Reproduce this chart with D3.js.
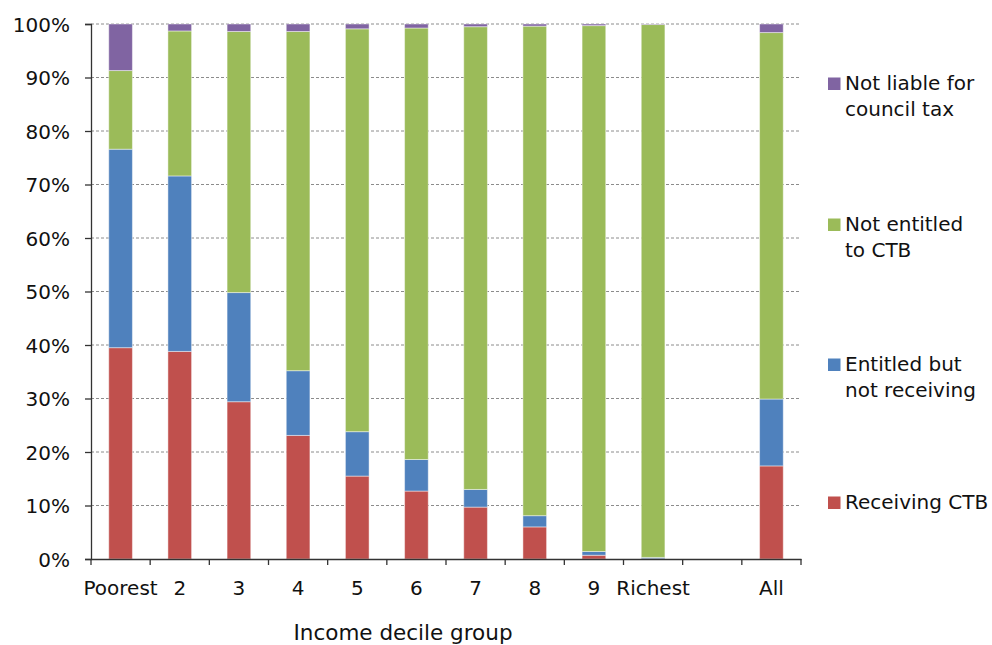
<!DOCTYPE html>
<html><head><meta charset="utf-8">
<script src="https://cdn.jsdelivr.net/npm/d3@7"></script>
<style>body{margin:0;background:#fff}svg{display:block}text{font-family:"DejaVu Sans",sans-serif;fill:#111}</style>
</head><body><svg id="c" width="992" height="645"></svg>
<script>
const categories = ["Poorest","2","3","4","5","6","7","8","9","Richest","","All"];
const receiving   = [39.5,38.8,29.4,23.1,15.5,12.7,9.7,6.0,0.7,0.05,null,17.4];
const entitledNot = [37.1,32.8,20.4,12.1,8.3,5.9,3.3,2.1,0.7,0.25,null,12.5];
const notEntitled = [14.7,27.1,48.8,63.4,75.3,80.65,86.5,91.5,98.3,99.6,null,68.5];
const notLiable   = [8.7,1.3,1.4,1.4,0.9,0.75,0.5,0.4,0.3,0.1,null,1.6];
const yTicks = [0,10,20,30,40,50,60,70,80,90,100];
const seriesNames = ["Receiving CTB","Entitled but not receiving","Not entitled to CTB","Not liable for council tax"];
const legendLines = [["Receiving CTB"],["Entitled but","not receiving"],["Not entitled","to CTB"],["Not liable for","council tax"]];
const colors = ["#C0504D","#4F81BD","#9BBB59","#8064A2"];

const svg = d3.select("#c");
const m = {l:91, r:801, t:24, b:559};
const x = d3.scaleBand().domain(categories.map((c,i)=>i)).range([m.l,m.r]).paddingInner(0).paddingOuter(0);
const y = d3.scaleLinear().domain([0,100]).range([m.b,m.t]);

// gridlines
svg.append("g").selectAll("line").data(yTicks.filter(d=>d>0)).join("line")
  .attr("x1",m.l).attr("x2",m.r).attr("y1",d=>y(d)).attr("y2",d=>y(d))
  .attr("stroke","#8c8c8c").attr("stroke-width",1).attr("stroke-dasharray","3,2");

// stacked data
const rows = categories.map((c,i)=>({i, s0:receiving[i]||0, s1:entitledNot[i]||0, s2:notEntitled[i]||0, s3:notLiable[i]||0}));
const stack = d3.stack().keys(["s0","s1","s2","s3"])(rows);
const bw = x.bandwidth()*0.4;
stack.forEach((layer,k)=>{
  svg.append("g").selectAll("rect").data(layer.filter(d=>categories[d.data.i]!=="")).join("rect")
    .attr("x",d=>x(d.data.i)+x.bandwidth()/2-bw/2)
    .attr("width",bw)
    .attr("y",d=>y(d[1]))
    .attr("height",d=>Math.max(0,y(d[0])-y(d[1])))
    .attr("fill",colors[k])
    .attr("stroke","rgba(255,255,255,0.45)").attr("stroke-width",1);
});

// axes
const yAxis = d3.axisLeft(y).tickValues(yTicks).tickFormat(d=>d+"%").tickSize(6).tickPadding(15);
const gy = svg.append("g").attr("transform",`translate(${m.l},0)`).call(yAxis);
gy.select(".domain").attr("stroke","#333").attr("stroke-width",1.3);
gy.selectAll(".tick line").attr("stroke","#333").attr("stroke-width",1.3);
gy.selectAll("text").style("font-size","20px").attr("fill","#111").attr("dy","0.35em");

const xAxis = d3.axisBottom(x).tickSize(0).tickFormat(i=>categories[i]);
const gx = svg.append("g").attr("transform",`translate(0,${m.b})`).call(xAxis);
gx.select(".domain").attr("stroke","#333").attr("stroke-width",1.3);
gx.selectAll("text").style("font-size","20px").attr("fill","#111").attr("y",36).attr("dy",0);
// boundary ticks
const bounds = categories.map((c,i)=>x(i)).concat([m.r]);
gx.append("g").selectAll("line").data(bounds).join("line")
  .attr("x1",d=>d).attr("x2",d=>d).attr("y1",0).attr("y2",6).attr("stroke","#333").attr("stroke-width",1.3);

svg.append("text").attr("x",403).attr("y",640).attr("text-anchor","middle").style("font-size","21.5px").text("Income decile group");

// legend
const legY = [509,371,231,90];
const lg = svg.append("g");
legendLines.forEach((lines,k)=>{
  lg.append("rect").attr("x",828).attr("y",legY[k]-12.5).attr("width",12.5).attr("height",12.5).attr("fill",colors[k]);
  const t = lg.append("text").attr("x",845).attr("y",legY[k]).style("font-size","20px");
  lines.forEach((l,j)=>t.append("tspan").attr("x",845).attr("dy",j?26:0).text(l));
});
</script></body></html>
